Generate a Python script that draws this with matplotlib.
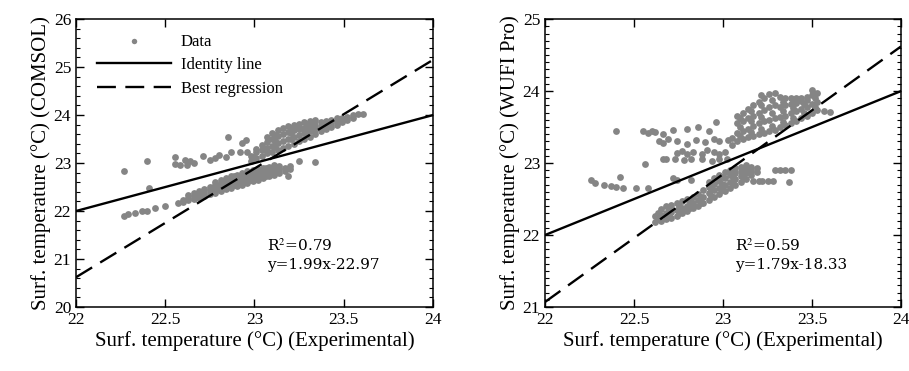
import matplotlib.pyplot as plt
from matplotlib.ticker import MultipleLocator

plt.rcParams['font.family'] = ['Liberation Serif', 'DejaVu Serif']
plt.rcParams['mathtext.fontset'] = 'stix'

# COMSOL vs experimental
comsol_x = [22.27, 22.29, 22.33, 22.37, 22.40, 22.44, 22.50, 22.57, 22.27, 22.40, 22.41,
            22.556, 22.556, 22.58, 22.61, 22.62, 22.64, 22.66, 22.71, 22.75, 22.78,
            22.80, 22.84, 22.85, 22.87, 22.92, 22.93, 22.95, 22.96, 22.99, 23.25,
            23.34, 23.19,
            22.60, 22.60, 22.63, 22.63, 22.63, 22.66, 22.66, 22.66, 22.69, 22.69, 22.69,
            22.72, 22.72, 22.72, 22.75, 22.75, 22.75,
            22.78, 22.78, 22.78, 22.78, 22.81, 22.81, 22.81, 22.81,
            22.84, 22.84, 22.84, 22.84, 22.87, 22.87, 22.87, 22.87,
            22.90, 22.90, 22.90, 22.90, 22.93, 22.93, 22.93, 22.93,
            22.96, 22.96, 22.96, 22.96, 22.99, 22.99, 22.99, 22.99,
            23.02, 23.02, 23.02, 23.02, 23.05, 23.05, 23.05, 23.05,
            23.08, 23.08, 23.08, 23.08, 23.11, 23.11, 23.11, 23.11,
            23.14, 23.14, 23.14, 23.17, 23.17, 23.20, 23.20,
            22.98, 22.98, 23.01, 23.01, 23.01, 23.04, 23.04, 23.04,
            23.07, 23.07, 23.07, 23.07, 23.10, 23.10, 23.10, 23.10,
            23.13, 23.13, 23.13, 23.13, 23.16, 23.16, 23.16, 23.16,
            23.19, 23.19, 23.19, 23.19, 23.22, 23.22, 23.22, 23.22,
            23.25, 23.25, 23.25, 23.25, 23.28, 23.28, 23.28, 23.28,
            23.31, 23.31, 23.31, 23.31, 23.34, 23.34, 23.34, 23.34,
            23.37, 23.37, 23.37, 23.40, 23.40, 23.40, 23.43, 23.43, 23.43,
            23.46, 23.46, 23.46, 23.49, 23.49, 23.52, 23.52, 23.55, 23.55,
            23.58, 23.61,
            22.795, 22.795, 22.885, 22.885, 22.885, 22.975, 22.975, 22.975,
            23.065, 23.065, 23.065, 23.115, 23.115, 23.115, 23.205, 23.205, 23.205,
            23.295, 23.295, 23.295, 23.385, 23.385]
comsol_y = [21.90, 21.93, 21.95, 22.00, 22.00, 22.06, 22.10, 22.17, 22.84, 23.05, 22.47,
            23.13, 22.99, 22.96, 23.06, 22.96, 23.04, 23.01, 23.15, 23.06, 23.10,
            23.17, 23.13, 23.54, 23.24, 23.24, 23.41, 23.48, 23.24, 23.13, 23.05,
            23.02, 22.74,
            22.18, 22.24, 22.22, 22.28, 22.33, 22.25, 22.32, 22.38, 22.27, 22.36, 22.42,
            22.31, 22.40, 22.46, 22.35, 22.43, 22.50,
            22.38, 22.46, 22.55, 22.60, 22.42, 22.50, 22.58, 22.64,
            22.45, 22.54, 22.62, 22.68, 22.49, 22.57, 22.65, 22.72,
            22.52, 22.60, 22.68, 22.76, 22.55, 22.63, 22.72, 22.80,
            22.58, 22.66, 22.75, 22.83, 22.62, 22.70, 22.78, 22.86,
            22.65, 22.73, 22.81, 22.88, 22.68, 22.76, 22.84, 22.90,
            22.72, 22.80, 22.87, 22.92, 22.76, 22.84, 22.90, 22.95,
            22.80, 22.87, 22.93, 22.84, 22.90, 22.88, 22.93,
            23.05, 23.15, 23.10, 23.22, 23.30, 23.15, 23.28, 23.38,
            23.20, 23.32, 23.44, 23.55, 23.24, 23.36, 23.50, 23.62,
            23.28, 23.42, 23.56, 23.68, 23.32, 23.46, 23.60, 23.73,
            23.35, 23.50, 23.64, 23.78, 23.40, 23.55, 23.68, 23.80,
            23.45, 23.58, 23.71, 23.82, 23.50, 23.62, 23.74, 23.85,
            23.55, 23.66, 23.77, 23.87, 23.60, 23.70, 23.80, 23.89,
            23.66, 23.76, 23.86, 23.72, 23.80, 23.88, 23.76, 23.84, 23.90,
            23.80, 23.88, 23.94, 23.86, 23.93, 23.90, 23.96, 23.94, 24.00,
            24.03, 24.02,
            22.45, 22.53, 22.55, 22.64, 22.72, 22.64, 22.73, 22.81,
            22.74, 22.82, 22.89, 23.34, 23.47, 23.59, 23.50, 23.62, 23.74,
            23.62, 23.72, 23.82, 23.74, 23.82]

# WUFI Pro vs experimental
wufi_x = [22.40, 22.26, 22.28, 22.33, 22.37, 22.40, 22.44, 22.42, 22.51, 22.58, 22.56,
          22.55, 22.58, 22.60, 22.62, 22.66, 22.72,
          22.64, 22.66, 22.69, 22.74, 22.80, 22.85, 22.90, 22.95, 22.98, 23.03,
          22.80, 22.86, 22.92, 22.96,
          22.74, 22.77, 22.80, 22.83, 22.88, 22.91, 22.95, 22.98, 23.01,
          22.66, 22.68, 22.73, 22.78, 22.82, 22.88, 22.94, 22.98, 23.02,
          22.72, 22.74, 22.82,
          23.29, 23.32, 23.35, 23.38, 23.16,
          23.17, 23.20, 23.22, 23.25, 23.28, 23.37,
          22.62, 22.62, 22.65, 22.65, 22.65, 22.68, 22.68, 22.68, 22.71, 22.71, 22.71,
          22.74, 22.74, 22.74, 22.77, 22.77, 22.77, 22.80, 22.80, 22.80,
          22.83, 22.83, 22.83, 22.86, 22.86, 22.86, 22.89, 22.89, 22.89,
          22.92, 22.92, 22.92, 22.92, 22.95, 22.95, 22.95, 22.95,
          22.98, 22.98, 22.98, 22.98, 23.01, 23.01, 23.01, 23.01,
          23.04, 23.04, 23.04, 23.04, 23.07, 23.07, 23.07, 23.07,
          23.10, 23.10, 23.10, 23.10, 23.13, 23.13, 23.13, 23.13,
          23.16, 23.16, 23.16, 23.19, 23.19,
          23.05, 23.05, 23.08, 23.08, 23.08, 23.08, 23.11, 23.11, 23.11, 23.11,
          23.14, 23.14, 23.14, 23.14, 23.17, 23.17, 23.17, 23.17,
          23.20, 23.20, 23.20, 23.20, 23.23, 23.23, 23.23, 23.23,
          23.26, 23.26, 23.26, 23.26, 23.29, 23.29, 23.29, 23.29,
          23.32, 23.32, 23.32, 23.32, 23.35, 23.35, 23.35, 23.35,
          23.38, 23.38, 23.38, 23.38, 23.41, 23.41, 23.41, 23.41,
          23.44, 23.44, 23.44, 23.44, 23.47, 23.47, 23.47, 23.47,
          23.50, 23.50, 23.50, 23.50, 23.53, 23.53, 23.53, 23.57, 23.60,
          23.095, 23.095, 23.095, 23.155, 23.155, 23.155, 23.215, 23.215, 23.215, 23.215,
          23.275, 23.275, 23.275, 23.335, 23.335, 23.335, 23.395, 23.395, 23.395,
          23.455, 23.455, 23.515, 23.515,
          22.635, 22.635, 22.695, 22.695, 22.755, 22.755, 22.815, 22.815, 22.875, 22.875,
          22.935, 22.935, 22.935, 22.995, 22.995, 22.995, 23.055, 23.055, 23.055,
          23.115, 23.115]
wufi_y = [23.45, 22.76, 22.72, 22.69, 22.68, 22.67, 22.66, 22.81, 22.66, 22.65, 22.99,
          23.44, 23.42, 23.45, 23.43, 23.41, 23.46,
          23.31, 23.28, 23.33, 23.30, 23.26, 23.32, 23.29, 23.34, 23.30, 23.32,
          23.47, 23.50, 23.45, 23.57,
          23.14, 23.17, 23.12, 23.16, 23.13, 23.18, 23.15, 23.12, 23.16,
          23.05, 23.06, 23.05, 23.04, 23.06, 23.05, 23.03, 23.06, 23.05,
          22.79, 22.76, 22.76,
          22.90, 22.90, 22.90, 22.90, 22.88,
          22.75, 22.75, 22.75, 22.75, 22.75, 22.73,
          22.18, 22.26, 22.20, 22.28, 22.36, 22.22, 22.30, 22.40, 22.24, 22.32, 22.42,
          22.27, 22.35, 22.44, 22.30, 22.38, 22.47, 22.33, 22.41, 22.50,
          22.37, 22.45, 22.53, 22.40, 22.49, 22.57, 22.44, 22.53, 22.62,
          22.49, 22.58, 22.67, 22.74, 22.53, 22.62, 22.71, 22.79,
          22.57, 22.66, 22.75, 22.83, 22.61, 22.70, 22.79, 22.87,
          22.66, 22.74, 22.83, 22.90, 22.70, 22.78, 22.86, 22.93,
          22.74, 22.82, 22.89, 22.95, 22.78, 22.86, 22.93, 22.97,
          22.83, 22.90, 22.95, 22.88, 22.93,
          23.25, 23.35, 23.30, 23.42, 23.55, 23.65, 23.33, 23.45, 23.58, 23.70,
          23.36, 23.48, 23.62, 23.75, 23.38, 23.52, 23.66, 23.80,
          23.40, 23.55, 23.70, 23.85, 23.42, 23.58, 23.74, 23.90,
          23.44, 23.60, 23.78, 23.96, 23.46, 23.62, 23.80, 23.98,
          23.50, 23.64, 23.78, 23.92, 23.53, 23.66, 23.80, 23.90,
          23.56, 23.69, 23.82, 23.90, 23.59, 23.72, 23.84, 23.90,
          23.62, 23.75, 23.86, 23.90, 23.66, 23.78, 23.88, 23.92,
          23.70, 23.82, 23.95, 24.01, 23.74, 23.85, 23.98, 23.73, 23.71,
          23.37, 23.50, 23.63, 23.43, 23.58, 23.72, 23.48, 23.64, 23.80, 23.94,
          23.52, 23.70, 23.88, 23.57, 23.72, 23.85, 23.63, 23.76, 23.87,
          23.70, 23.82, 23.78, 23.90,
          22.22, 22.31, 22.27, 22.36, 22.31, 22.40, 22.38, 22.46, 22.45, 22.53,
          22.54, 22.63, 22.70, 22.62, 22.71, 22.80, 22.72, 22.81, 22.88,
          22.80, 22.88]

# Lines (identity and fitted regression as drawn)
line_x = [22, 24]
comsol_reg_y = [20.62, 25.15]
wufi_reg_y = [21.07, 24.62]

fig = plt.figure(figsize=(9.09, 3.71), dpi=100)
ax1 = fig.add_axes([0.0836, 0.1725, 0.3927, 0.776])
ax2 = fig.add_axes([0.5996, 0.1725, 0.3916, 0.776])

grey = '#858585'
panels = [
    (ax1, comsol_x, comsol_y, comsol_reg_y, (20, 26), 0.2,
     'Surf. temperature (°C) (COMSOL)', 'R$^2$=0.79\ny=1.99x-22.97'),
    (ax2, wufi_x, wufi_y, wufi_reg_y, (21, 25), 0.1,
     'Surf. temperature (°C) (WUFI Pro)', 'R$^2$=0.59\ny=1.79x-18.33'),
]

for ax, xs, ys, reg, ylim, minor, ylabel, note in panels:
    ax.scatter(xs, ys, s=24, color=grey, linewidths=0, label='Data', zorder=2)
    ax.plot(line_x, line_x, '-', color='black', lw=1.7, label='Identity line', zorder=3)
    ax.plot(line_x, reg, '--', color='black', lw=1.7, dashes=(8, 4),
            label='Best regression', zorder=3)
    ax.set_xlim(22, 24)
    ax.set_ylim(*ylim)
    ax.xaxis.set_major_locator(MultipleLocator(0.5))
    ax.xaxis.set_major_formatter(plt.FuncFormatter(lambda v, p: f'{v:g}'))
    ax.yaxis.set_major_locator(MultipleLocator(1))
    ax.yaxis.set_minor_locator(MultipleLocator(minor))
    ax.tick_params(which='both', direction='in', top=True, right=True, labelsize=12.5)
    ax.tick_params(which='major', length=6, width=1)
    ax.tick_params(which='minor', length=3, width=0.8)
    ax.tick_params(axis='x', which='minor', top=False, bottom=False)
    for sp in ax.spines.values():
        sp.set_linewidth(1.1)
    ax.set_xlabel('Surf. temperature (°C) (Experimental)', fontsize=15, labelpad=2)
    ax.set_ylabel(ylabel, fontsize=15, labelpad=2)
    ax.text(0.535, 0.12, note, transform=ax.transAxes, fontsize=11,
            family='DejaVu Serif', linespacing=1.4, va='bottom')

ax1.legend(loc='upper left', bbox_to_anchor=(0.06, 0.95), frameon=False,
           fontsize=12, handlelength=4.4, handletextpad=0.6, labelspacing=0.45,
           borderaxespad=0, borderpad=0, markerscale=0.8)

fig.savefig('out.png', dpi=100)
